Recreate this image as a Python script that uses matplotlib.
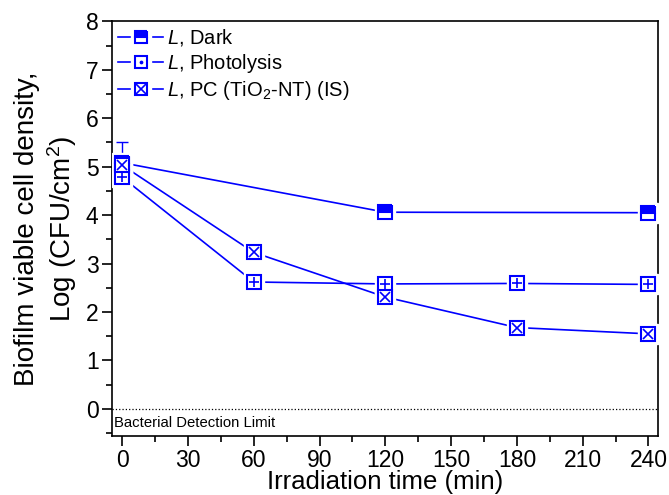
import matplotlib
matplotlib.use('Agg')
import matplotlib.pyplot as plt
from matplotlib.lines import Line2D
from matplotlib.legend_handler import HandlerTuple

plt.rcParams['font.family'] = ['Liberation Sans', 'DejaVu Sans']
plt.rcParams['mathtext.fontset'] = 'custom'
plt.rcParams['mathtext.rm'] = 'Liberation Sans'
plt.rcParams['mathtext.it'] = 'Liberation Sans:italic'

# data
t_dark = [0, 120, 240]
y_dark = [5.08, 4.06, 4.05]
err_dark = [0.43, 0.0, 0.0]

t_photo = [0, 60, 120, 180, 240]
y_photo = [4.78, 2.62, 2.58, 2.59, 2.57]

t_pc = [0, 60, 120, 180, 240]
y_pc = [5.03, 3.23, 2.31, 1.68, 1.55]

blue = '#0000ff'
ms = 10

fig = plt.figure(figsize=(6.69, 4.95), dpi=100)
ax = fig.add_axes([0.168, 0.119, 0.815, 0.838])

def series(t, y, fill, inner):
    ax.plot(t, y, '-', color=blue, lw=1.2, zorder=2)
    # white halo so the line stops short of the marker
    ax.plot(t, y, 's', ms=ms + 5, color='white', mec='white', zorder=3)
    ax.plot(t, y, 's', ms=ms, color=blue, mfc=blue if fill == 'top' else 'white',
            fillstyle=fill, mec=blue, mew=1.5, zorder=4,
            markerfacecoloralt='white')
    if inner:
        ax.plot(t, y, inner, ms=ms - 3, color=blue, mew=1.2, zorder=5)

ax.errorbar(t_dark[:1], y_dark[:1], yerr=[[0], err_dark[:1]], fmt='none',
            ecolor=blue, elinewidth=1, capsize=4, zorder=1)
series(t_dark, y_dark, 'top', None)
series(t_photo, y_photo, 'full', '+')
series(t_pc, y_pc, 'full', 'x')

ax.axhline(0, color='black', ls=':', lw=0.9)
ax.text(-3.8, -0.14, 'Bacterial Detection Limit', fontsize=10.7, va='top', ha='left')

ax.set_xlim(-4.5, 244.2)
ax.set_ylim(-0.56, 8)
ax.set_xticks(range(0, 241, 30))
ax.set_xticks(range(15, 241, 30), minor=True)
ax.set_yticks(range(0, 9))
ax.set_yticks([i + 0.5 for i in range(-1, 8)], minor=True)
ax.tick_params(which='major', direction='out', length=7, width=1.2, labelsize=16.5)
ax.tick_params(which='minor', direction='out', length=4, width=1.2)
ax.tick_params(axis='x', pad=2)
ax.tick_params(axis='y', pad=3)
for s in ax.spines.values():
    s.set_linewidth(1.2)

ax.set_xlabel('Irradiation time (min)', fontsize=18.5, labelpad=-1)
ax.set_ylabel('Biofilm viable cell density,\nLog (CFU/cm$^2$)', fontsize=20,
              labelpad=5, linespacing=1.2)

def handle(fill, inner, ims):
    line = Line2D([], [], color=blue, lw=1.2)
    halo = Line2D([], [], ls='none', marker='s', ms=ms + 4, color='white', mec='white')
    mk = Line2D([], [], ls='none', marker='s', ms=ms - 1, mfc=blue if fill == 'top' else 'white',
                fillstyle=fill, markerfacecoloralt='white', mec=blue, mew=1.5)
    parts = [line, halo, mk]
    if inner:
        parts.append(Line2D([], [], ls='none', marker=inner, ms=ims, color=blue, mew=1.2))
    return tuple(parts)

ax.legend([handle('top', None, 0), handle('full', '.', 3), handle('full', 'x', ms - 3)],
          ['$\\it{L}$, Dark', '$\\it{L}$, Photolysis', '$\\it{L}$, PC (TiO$_2$-NT) (IS)'],
          handler_map={tuple: HandlerTuple(ndivide=1)},
          loc='upper left', frameon=False, fontsize=14.5, handlelength=2.2,
          handletextpad=0.2, borderaxespad=0.1, labelspacing=0.2,
          borderpad=0.2)

fig.savefig('out.png', dpi=100)
